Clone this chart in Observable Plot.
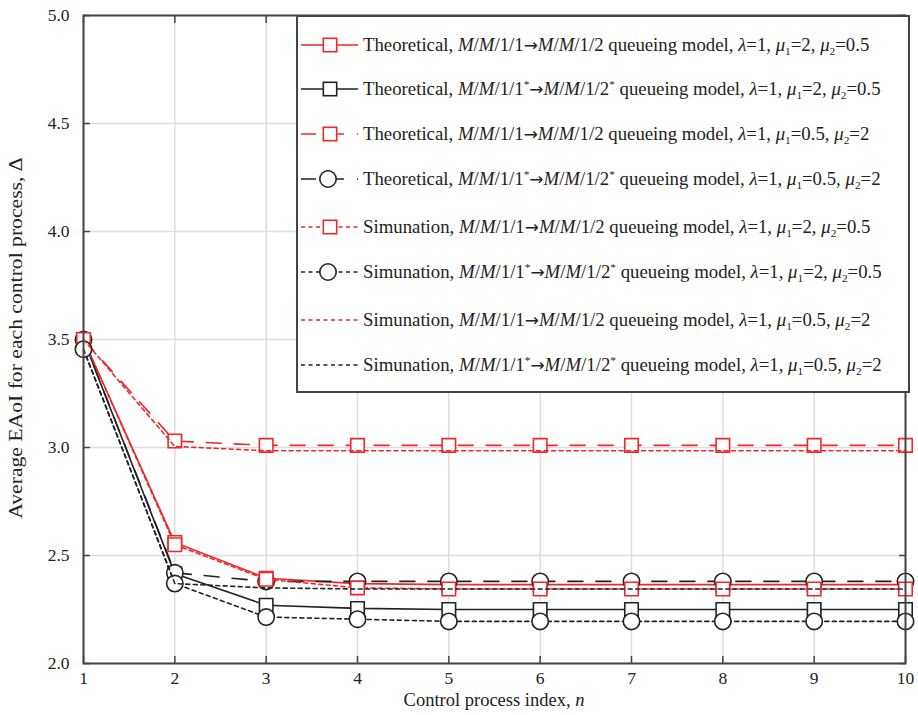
<!DOCTYPE html>
<html>
<head>
<meta charset="utf-8">
<script src="https://cdn.jsdelivr.net/npm/d3@7"></script>
<script src="https://cdn.jsdelivr.net/npm/@observablehq/plot@0.6"></script>
<style>
  html, body { margin: 0; padding: 0; background: #fff; }
  #wrap { position: relative; width: 918px; height: 715px; font-family: "Liberation Serif", "Times New Roman", serif; color: #222; }
  #legend { position: absolute; left: 296px; top: 15px; width: 614px; height: 378px; background: #fff; border: 2px solid #444; box-sizing: border-box; }
  .row { position: absolute; left: 0; height: 22px; display: flex; align-items: center; white-space: nowrap; font-size: 18.8px; }
  .row svg { flex: none; }
  .row span.t { margin-left: 3px; }
  .arr { font-family: "DejaVu Sans", sans-serif; font-size: 0.9em; }
  sub, sup { font-size: 0.6em; line-height: 0; }
  sub { vertical-align: -0.35em; }
  sup { vertical-align: 0.6em; }
  .lab { position: absolute; white-space: nowrap; }
</style>
</head>
<body>
<div id="wrap">
  <div id="chart"></div>
  <div id="legend"></div>
  <div class="lab" id="xlab" style="left:494px;top:690px;font-size:18.5px;transform:translateX(-50%);">Control process index, <i>n</i></div>
  <div class="lab" id="ylab" style="left:16px;top:338px;font-size:19.5px;transform:translate(-50%,-50%) rotate(-90deg) scaleX(1.11);">Average EAoI for each control process, Δ</div>
</div>
<script>
// ---- data ----
const nIndex = [1, 2, 3, 4, 5, 6, 7, 8, 9, 10];
const yTicks = [2.0, 2.5, 3.0, 3.5, 4.0, 4.5, 5.0];

// Theoretical
const theoA = [3.50, 2.56, 2.395, 2.37, 2.365, 2.365, 2.365, 2.365, 2.365, 2.365]; // M/M/1/1->M/M/1/2, mu1=2, mu2=0.5
const theoB = [3.50, 2.415, 2.27, 2.255, 2.25, 2.25, 2.25, 2.25, 2.25, 2.25];      // starred, mu1=2, mu2=0.5
const theoC = [3.50, 3.03, 3.01, 3.01, 3.01, 3.01, 3.01, 3.01, 3.01, 3.01];        // mu1=0.5, mu2=2
const theoD = [3.50, 2.42, 2.38, 2.38, 2.38, 2.38, 2.38, 2.38, 2.38, 2.38];        // starred, mu1=0.5, mu2=2
// Simulation
const simA = [3.50, 2.55, 2.39, 2.35, 2.345, 2.345, 2.345, 2.345, 2.345, 2.345];
const simB = [3.455, 2.37, 2.215, 2.205, 2.195, 2.195, 2.195, 2.195, 2.195, 2.195];
const simC = [3.50, 3.005, 2.985, 2.985, 2.985, 2.985, 2.985, 2.985, 2.985, 2.985];
const simD = [3.455, 2.37, 2.35, 2.345, 2.345, 2.345, 2.345, 2.345, 2.345, 2.345];

const ARR = '<span class="arr">→</span>';
const legendLabels = [
  'Theoretical, <i>M</i>/<i>M</i>/1/1' + ARR + '<i>M</i>/<i>M</i>/1/2 queueing model, <i>λ</i>=1, <i>μ</i><sub>1</sub>=2, <i>μ</i><sub>2</sub>=0.5',
  'Theoretical, <i>M</i>/<i>M</i>/1/1<sup>*</sup>' + ARR + '<i>M</i>/<i>M</i>/1/2<sup>*</sup> queueing model, <i>λ</i>=1, <i>μ</i><sub>1</sub>=2, <i>μ</i><sub>2</sub>=0.5',
  'Theoretical, <i>M</i>/<i>M</i>/1/1' + ARR + '<i>M</i>/<i>M</i>/1/2 queueing model, <i>λ</i>=1, <i>μ</i><sub>1</sub>=0.5, <i>μ</i><sub>2</sub>=2',
  'Theoretical, <i>M</i>/<i>M</i>/1/1<sup>*</sup>' + ARR + '<i>M</i>/<i>M</i>/1/2<sup>*</sup> queueing model, <i>λ</i>=1, <i>μ</i><sub>1</sub>=0.5, <i>μ</i><sub>2</sub>=2',
  'Simunation, <i>M</i>/<i>M</i>/1/1' + ARR + '<i>M</i>/<i>M</i>/1/2 queueing model, <i>λ</i>=1, <i>μ</i><sub>1</sub>=2, <i>μ</i><sub>2</sub>=0.5',
  'Simunation, <i>M</i>/<i>M</i>/1/1<sup>*</sup>' + ARR + '<i>M</i>/<i>M</i>/1/2<sup>*</sup> queueing model, <i>λ</i>=1, <i>μ</i><sub>1</sub>=2, <i>μ</i><sub>2</sub>=0.5',
  'Simunation, <i>M</i>/<i>M</i>/1/1' + ARR + '<i>M</i>/<i>M</i>/1/2 queueing model, <i>λ</i>=1, <i>μ</i><sub>1</sub>=0.5, <i>μ</i><sub>2</sub>=2',
  'Simunation, <i>M</i>/<i>M</i>/1/1<sup>*</sup>' + ARR + '<i>M</i>/<i>M</i>/1/2<sup>*</sup> queueing model, <i>λ</i>=1, <i>μ</i><sub>1</sub>=0.5, <i>μ</i><sub>2</sub>=2'
];

// ---- styles ----
const RED = "#f02828", BLK = "#222";
const DASH = "15,13", DOT = "4,3.5";
const seriesDefs = [
  {values: theoA, stroke: RED, dash: null, symbol: "square"},
  {values: theoB, stroke: BLK, dash: null, symbol: "square"},
  {values: theoC, stroke: RED, dash: DASH, symbol: "square"},
  {values: theoD, stroke: BLK, dash: DASH, symbol: "circle"},
  {values: simA, stroke: RED, dash: DOT, symbol: "square"},
  {values: simB, stroke: BLK, dash: DOT, symbol: "circle"},
  {values: simC, stroke: RED, dash: DOT, symbol: null},
  {values: simD, stroke: BLK, dash: DOT, symbol: null}
];

const marks = [
  Plot.gridX(nIndex, {stroke: "#dedede", strokeOpacity: 1, strokeWidth: 1.5}),
  Plot.gridY(yTicks, {stroke: "#dedede", strokeOpacity: 1, strokeWidth: 1.5}),
  Plot.axisX({ticks: nIndex, tickSize: 0, tickPadding: 8, tickFormat: d3.format("d"), label: null, fontSize: 17.5}),
  Plot.axisY({ticks: yTicks, tickSize: 0, tickPadding: 14, tickFormat: d3.format(".1f"), label: null, fontSize: 17.5}),
  Plot.axisX({ticks: nIndex, anchor: "bottom", tickSize: -7, tickFormat: () => "", label: null, stroke: "#444", strokeWidth: 1.5}),
  Plot.axisX({ticks: nIndex, anchor: "top", tickSize: -7, tickFormat: () => "", label: null, stroke: "#444", strokeWidth: 1.5}),
  Plot.axisY({ticks: yTicks, anchor: "left", tickSize: -7, tickFormat: () => "", label: null, stroke: "#444", strokeWidth: 1.5}),
  Plot.axisY({ticks: yTicks, anchor: "right", tickSize: -7, tickFormat: () => "", label: null, stroke: "#444", strokeWidth: 1.5})
];
for (const s of seriesDefs) {
  const rows = nIndex.map((n, i) => ({n, v: s.values[i]}));
  marks.push(Plot.line(rows, {x: "n", y: "v", stroke: s.stroke, strokeWidth: 1.6, strokeDasharray: s.dash}));
  if (s.symbol) {
    marks.push(Plot.dot(rows, {x: "n", y: "v", symbol: s.symbol, r: s.symbol === "square" ? 7.6 : 8.2, fill: "white", stroke: s.stroke, strokeWidth: 1.6}));
  }
}
marks.push(Plot.frame({stroke: "#444", strokeWidth: 2}));

const chart = Plot.plot({
  width: 918, height: 715,
  marginLeft: 83, marginRight: 13, marginTop: 15, marginBottom: 52,
  x: {domain: [1, 10]},
  y: {domain: [2, 5]},
  style: {fontFamily: "'Liberation Serif', 'Times New Roman', serif", fontSize: "17px", color: "#222", background: "white"},
  marks
});
document.getElementById("chart").appendChild(chart);

// ---- legend ----
const rowCenters = [28, 72, 117, 162, 210, 255, 303, 348];
const legend = document.getElementById("legend");
seriesDefs.forEach((s, i) => {
  const row = document.createElement("div");
  row.className = "row";
  row.style.top = (rowCenters[i] - 11) + "px";
  const sw = d3.create("svg").attr("width", 62).attr("height", 22);
  sw.append("line").attr("x1", 3).attr("x2", 60).attr("y1", 11).attr("y2", 11)
    .attr("stroke", s.stroke).attr("stroke-width", 1.6).attr("stroke-dasharray", s.dash);
  if (s.symbol === "square") {
    sw.append("rect").attr("x", 32 - 6.7).attr("y", 11 - 6.7).attr("width", 13.4).attr("height", 13.4)
      .attr("fill", "white").attr("stroke", s.stroke).attr("stroke-width", 1.6);
  } else if (s.symbol === "circle") {
    sw.append("circle").attr("cx", 30).attr("cy", 11).attr("r", 8.2)
      .attr("fill", "white").attr("stroke", s.stroke).attr("stroke-width", 1.6);
  }
  row.appendChild(sw.node());
  const t = document.createElement("span");
  t.className = "t";
  t.innerHTML = legendLabels[i];
  row.appendChild(t);
  legend.appendChild(row);
});
</script>
</body>
</html>
